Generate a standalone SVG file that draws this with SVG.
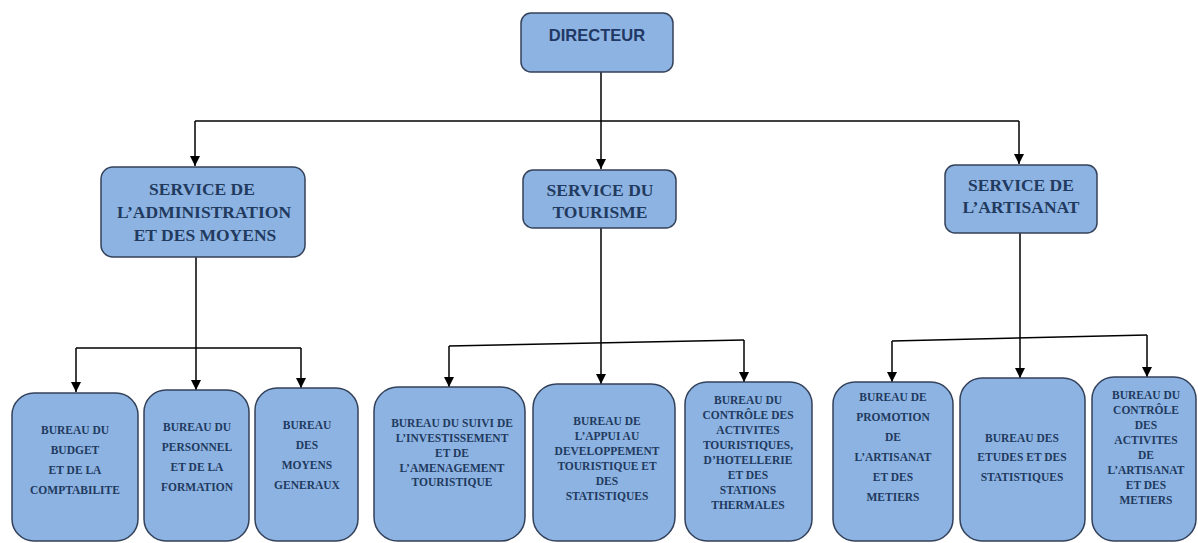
<svg xmlns="http://www.w3.org/2000/svg" width="1198" height="543" viewBox="0 0 1198 543">
<style>
.box{fill:#8DB3E2;stroke:#33425A;stroke-width:1.5}
.dir{font-family:"Liberation Sans",Arial,sans-serif;font-weight:bold;font-size:16.5px;fill:#1F3864;text-anchor:middle}
.svc{font-family:"Liberation Serif","Times New Roman",serif;font-weight:bold;font-size:17.5px;fill:#213A5E;text-anchor:middle}
.bur{font-family:"Liberation Serif","Times New Roman",serif;font-weight:bold;font-size:11.5px;fill:#213A5E;text-anchor:middle}
.con{fill:none;stroke:#000;stroke-width:1.5}
</style>
<defs>
<marker id="arr" markerUnits="userSpaceOnUse" markerWidth="10" markerHeight="10" refX="10" refY="5" orient="auto" viewBox="0 0 10 10">
<path d="M0,0 L10,5 L0,10 z" fill="#000"/>
</marker>
</defs>
<rect width="1198" height="543" fill="#fff"/>
<g id="connectors" class="con">
<path d="M601,72 V169" marker-end="url(#arr)"/>
<path d="M195,121 H1019"/>
<path d="M195,121 V166" marker-end="url(#arr)"/>
<path d="M1019,121 V164" marker-end="url(#arr)"/>
<path d="M196,257 V390" marker-end="url(#arr)"/>
<path d="M76,348 H301"/>
<path d="M76,348 V392" marker-end="url(#arr)"/>
<path d="M301,348 V388" marker-end="url(#arr)"/>
<path d="M601,228 V384" marker-end="url(#arr)"/>
<path d="M449,346 L744,340"/>
<path d="M449,346 V387" marker-end="url(#arr)"/>
<path d="M744,340 V382" marker-end="url(#arr)"/>
<path d="M1020,233 V378" marker-end="url(#arr)"/>
<path d="M892,341 L1147,335"/>
<path d="M892,341 V382" marker-end="url(#arr)"/>
<path d="M1147,335 V377" marker-end="url(#arr)"/>
</g>
<g id="directeur">
<rect class="box" x="521" y="13" width="152" height="59" rx="10"/>
<text class="dir" x="597" y="41">DIRECTEUR</text>
</g>
<g id="service-admin">
<rect class="box" x="101" y="167" width="204" height="90" rx="12"/>
<text class="svc" x="202" y="195">SERVICE DE</text>
<text class="svc" x="204" y="218">L’ADMINISTRATION</text>
<text class="svc" x="205" y="241">ET DES MOYENS</text>
</g>
<g id="service-tourisme">
<rect class="box" x="523" y="170" width="153" height="58" rx="10"/>
<text class="svc" x="600" y="196">SERVICE DU</text>
<text class="svc" x="600" y="218">TOURISME</text>
</g>
<g id="service-artisanat">
<rect class="box" x="945" y="165" width="152" height="68" rx="10"/>
<text class="svc" x="1021" y="191">SERVICE DE</text>
<text class="svc" x="1021" y="213">L’ARTISANAT</text>
</g>
<g id="bureau-budget">
<rect class="box" x="12" y="393" width="126" height="148" rx="22"/>
<text class="bur" x="75" y="434">BUREAU DU</text>
<text class="bur" x="75" y="454">BUDGET</text>
<text class="bur" x="75" y="474">ET DE LA</text>
<text class="bur" x="75" y="494">COMPTABILITE</text>
</g>
<g id="bureau-personnel">
<rect class="box" x="144" y="390" width="105" height="151" rx="22"/>
<text class="bur" x="197" y="431">BUREAU DU</text>
<text class="bur" x="197" y="451">PERSONNEL</text>
<text class="bur" x="197" y="471">ET DE LA</text>
<text class="bur" x="197" y="491">FORMATION</text>
</g>
<g id="bureau-moyens">
<rect class="box" x="255" y="388" width="103" height="153" rx="22"/>
<text class="bur" x="307" y="429">BUREAU</text>
<text class="bur" x="307" y="449">DES</text>
<text class="bur" x="307" y="469">MOYENS</text>
<text class="bur" x="307" y="489">GENERAUX</text>
</g>
<g id="bureau-suivi">
<rect class="box" x="374" y="387" width="151" height="154" rx="24"/>
<text class="bur" x="452" y="427">BUREAU DU SUIVI  DE</text>
<text class="bur" x="452" y="442">L’INVESTISSEMENT</text>
<text class="bur" x="452" y="457">ET DE</text>
<text class="bur" x="452" y="472">L’AMENAGEMENT</text>
<text class="bur" x="452" y="486">TOURISTIQUE</text>
</g>
<g id="bureau-appui">
<rect class="box" x="533" y="384" width="142" height="157" rx="24"/>
<text class="bur" x="607" y="425">BUREAU DE</text>
<text class="bur" x="607" y="440">L’APPUI AU</text>
<text class="bur" x="607" y="455">DEVELOPPEMENT</text>
<text class="bur" x="607" y="470">TOURISTIQUE ET</text>
<text class="bur" x="607" y="485">DES</text>
<text class="bur" x="607" y="500">STATISTIQUES</text>
</g>
<g id="bureau-controle-tourisme">
<rect class="box" x="685" y="382" width="127" height="159" rx="22"/>
<text class="bur" x="748" y="404">BUREAU DU</text>
<text class="bur" x="748" y="419">CONTRÔLE DES</text>
<text class="bur" x="748" y="434">ACTIVITES</text>
<text class="bur" x="748" y="449">TOURISTIQUES,</text>
<text class="bur" x="748" y="464">D’HOTELLERIE</text>
<text class="bur" x="748" y="479">ET DES</text>
<text class="bur" x="748" y="494">STATIONS</text>
<text class="bur" x="748" y="509">THERMALES</text>
</g>
<g id="bureau-promotion">
<rect class="box" x="833" y="382" width="120" height="159" rx="22"/>
<text class="bur" x="893" y="401">BUREAU DE</text>
<text class="bur" x="893" y="421">PROMOTION</text>
<text class="bur" x="893" y="441">DE</text>
<text class="bur" x="893" y="461">L’ARTISANAT</text>
<text class="bur" x="893" y="481">ET DES</text>
<text class="bur" x="893" y="501">METIERS</text>
</g>
<g id="bureau-etudes">
<rect class="box" x="960" y="378" width="125" height="163" rx="22"/>
<text class="bur" x="1022" y="442">BUREAU DES</text>
<text class="bur" x="1022" y="461">ETUDES ET DES</text>
<text class="bur" x="1022" y="481">STATISTIQUES</text>
</g>
<g id="bureau-controle-artisanat">
<rect class="box" x="1092" y="377" width="104" height="164" rx="22"/>
<text class="bur" x="1146" y="399">BUREAU DU</text>
<text class="bur" x="1146" y="414">CONTRÔLE</text>
<text class="bur" x="1146" y="429">DES</text>
<text class="bur" x="1146" y="444">ACTIVITES</text>
<text class="bur" x="1146" y="459">DE</text>
<text class="bur" x="1146" y="474">L’ARTISANAT</text>
<text class="bur" x="1146" y="489">ET DES</text>
<text class="bur" x="1146" y="504">METIERS</text>
</g>
</svg>
